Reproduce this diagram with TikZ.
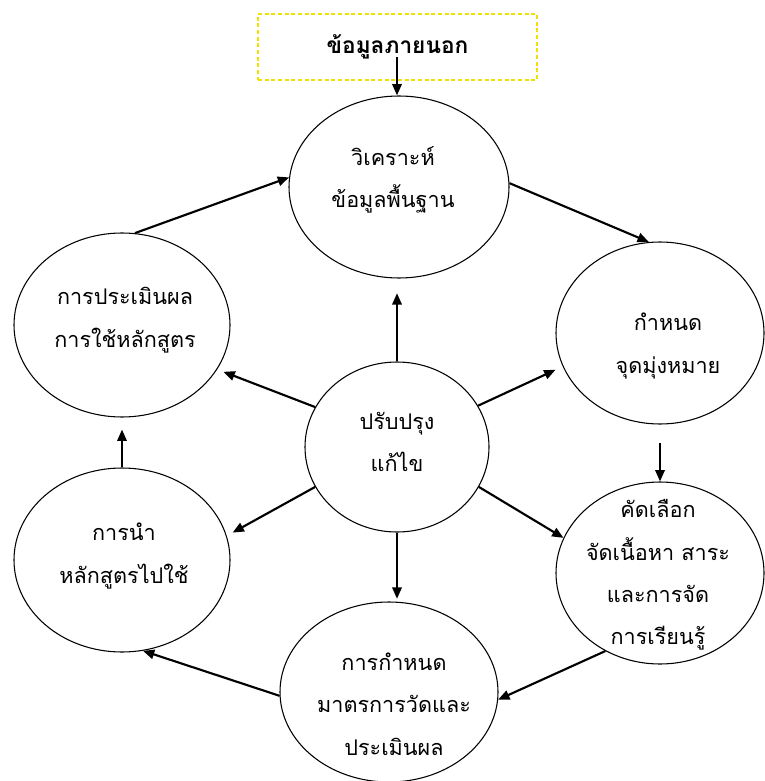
\documentclass[tikz,border=0pt]{standalone}
\usepackage{fontspec}
\newfontfamily\thaifont[Script=Thai]{Loma}
\usetikzlibrary{shapes.geometric,arrows.meta}

\begin{document}
\begin{tikzpicture}[x=0.75pt,y=-0.75pt,
  bubble/.style={ellipse,draw,line width=0.8pt,inner sep=0pt},
  txt/.style={align=center,inner sep=0pt,font=\thaifont\fontsize{16.2}{31.8}\selectfont},
  srcbox/.style={draw={rgb,255:red,240;green,225;blue,0},line width=0.8pt,
    dash pattern=on 3pt off 2pt,minimum width=209.25pt,minimum height=49.5pt,
    inner sep=0pt,font=\thaifont\bfseries\fontsize{17}{20}\selectfont},
  link/.style={line width=1.6pt,-{Triangle[length=8.5pt,width=7pt]}},
]
\useasboundingbox (0,0) rectangle (764,781);

% outside data box
\node[srcbox] (src) at (397.5,47) {ข้อมูลภายนอก};
\coordinate (srcfoot) at (397,57);

% the seven stages
\node[bubble,minimum width=165pt,minimum height=136.5pt] (T)  at (399,187) {};
\node[bubble,minimum width=162pt,minimum height=138pt]   (LU) at (122,325) {};
\node[bubble,minimum width=156pt,minimum height=136.5pt] (RU) at (660,333) {};
\node[bubble,minimum width=138pt,minimum height=127.5pt] (C)  at (397,447) {};
\node[bubble,minimum width=162pt,minimum height=138pt]   (LL) at (122,560) {};
\node[bubble,minimum width=156pt,minimum height=136.5pt] (RL) at (660,573) {};
\node[bubble,minimum width=163.5pt,minimum height=135pt] (B)  at (389,692) {};

% stage texts
\node[txt] (tT)  at (393,180) {วิเคราะห์\\ข้อมูลพื้นฐาน};
\node[txt] (tLU) at (125,320) {การประเมินผล\\การใช้หลักสูตร};
\node[txt] (tRU) at (668,346) {กำหนด\\จุดมุ่งหมาย};
\node[txt] (tC)  at (397,442) {ปรับปรุง\\แก้ไข};
\node[txt] (tRL) at (658,575) {คัดเลือก\\จัดเนื้อหา สาระ\\และการจัด\\การเรียนรู้};
\node[txt] (tB)  at (394,704) {การกำหนด\\มาตรการวัดและ\\ประเมินผล};
\node[txt] (tLL) at (124,556) {การนำ\\หลักสูตรไปใช้};

% outer cycle
\draw[link] (srcfoot) -- (srcfoot |- T.north);
\draw[link] (T.2.6) -- (RU.97.6);
\draw[link,shorten <=14pt] (RU.south) -- (RL.north);
\draw[link] (RL.235.3) -- (B.-4);
\draw[link] (B.182.6) -- (LL.-77);
\draw[link,shorten >=9pt] (LL.north) -- (LL.north |- LU.south);
\draw[link] (LU.82.5) -- (T.175.3);

% spokes from the centre
\draw[link,shorten >=11pt] (C.north) -- (C.north |- T.south);
\draw[link,shorten >=5pt] (C.154.3) -- (LU.-25.2);
\draw[link,shorten >=6pt] (C.27.1) -- (RU.199.6);
\draw[link,shorten >=5pt] (C.206.8) -- (LL.13.8);
\draw[link] (C.-26.6) -- (RL.160.8);
\draw[link,shorten >=2pt] (C.south) -- (C.south |- B.north);
\end{tikzpicture}
\end{document}
